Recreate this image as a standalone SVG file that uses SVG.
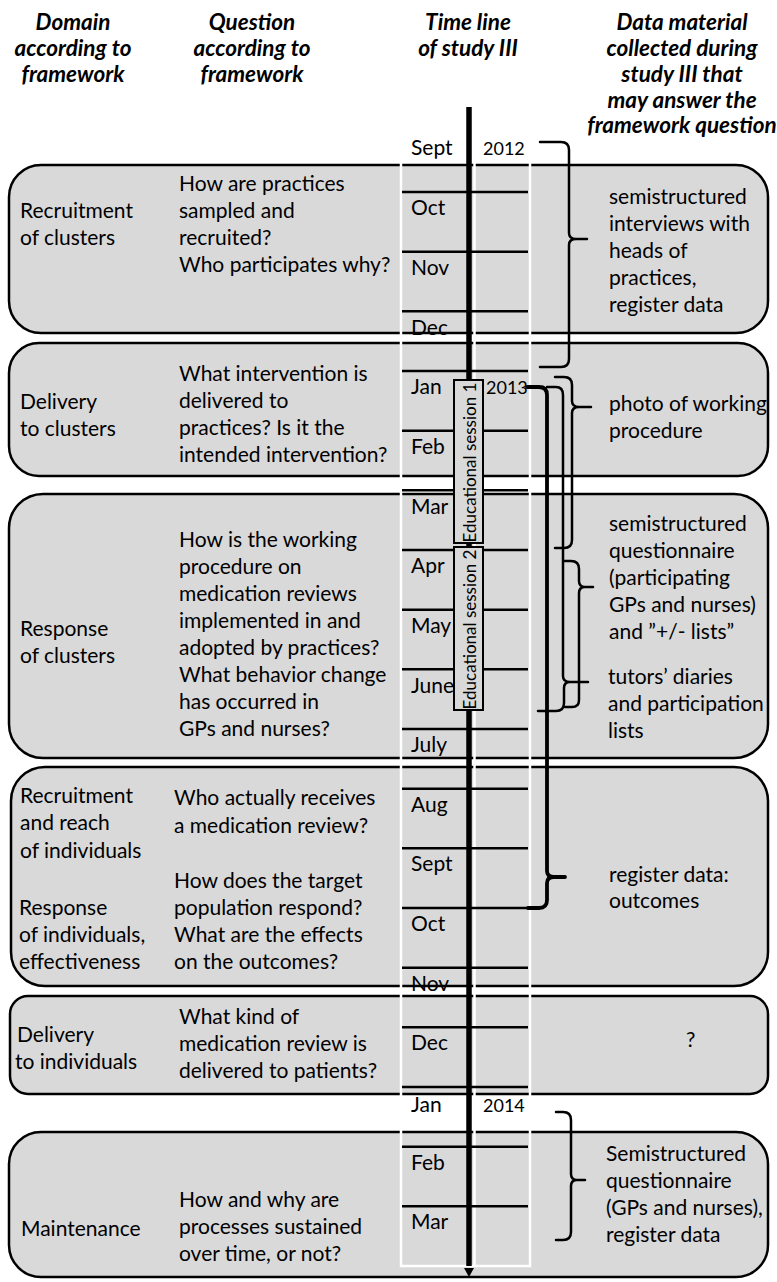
<svg xmlns="http://www.w3.org/2000/svg" width="777" height="1282" viewBox="0 0 777 1282">
<style>
  text { font-family: Lato, "Liberation Sans", sans-serif; fill: #000; }
  .hd { font-size: 22.5px; font-weight: bold; font-style: italic; text-anchor: middle; }
  .tx { font-size: 21px; }
  .mo { font-size: 21px; }
  .yr { font-size: 18px; }
  .edu { font-size: 17px; text-anchor: middle; }
  .box { fill: #d9d9d9; stroke: #000; stroke-width: 2.5; }
  .col { fill: none; stroke: #fff; stroke-width: 2.5; }
  .sep { stroke: #000; stroke-width: 2.5; }
  .brace { fill: none; stroke: #000; stroke-width: 2.5; stroke-linejoin: round; stroke-linecap: round; }
  .brace.thick { stroke-width: 3.8; }
  .eduBox { fill: #d9d9d9; stroke: #000; stroke-width: 2; }
</style>

<!-- column headings -->
<g id="headings">
  <text class="hd" x="73" y="30">Domain</text>
  <text class="hd" x="73" y="56">according to</text>
  <text class="hd" x="73" y="82">framework</text>
  <text class="hd" x="252" y="30">Question</text>
  <text class="hd" x="252" y="56">according to</text>
  <text class="hd" x="252" y="82">framework</text>
  <text class="hd" x="468" y="30">Time line</text>
  <text class="hd" x="468" y="56">of study III</text>
  <text class="hd" x="682" y="30">Data material</text>
  <text class="hd" x="682" y="56">collected during</text>
  <text class="hd" x="682" y="82">study III that</text>
  <text class="hd" x="682" y="108">may answer the</text>
  <text class="hd" x="682" y="133">framework question</text>
</g>

<!-- domain bands -->
<g id="band-recruitment-clusters"><rect class="box" x="9" y="165" width="759" height="168" rx="32"/></g>
<g id="band-delivery-clusters"><rect class="box" x="9" y="343" width="759" height="133" rx="30"/></g>
<g id="band-response-clusters"><rect class="box" x="9" y="494" width="759" height="264" rx="34"/></g>
<g id="band-individuals"><rect class="box" x="11" y="767" width="757" height="219" rx="34"/></g>
<g id="band-delivery-individuals"><rect class="box" x="10" y="996" width="758" height="98" rx="18"/></g>
<g id="band-maintenance"><rect class="box" x="9" y="1132" width="759" height="145" rx="32"/></g>

<!-- time line -->
<g id="timeline">
  <g class="months">
    <text class="mo" x="411" y="155">Sept</text>
    <text class="mo" x="411" y="215">Oct</text>
    <text class="mo" x="411" y="275">Nov</text>
    <text class="mo" x="411" y="335">Dec</text>
    <text class="mo" x="411" y="394">Jan</text>
    <text class="mo" x="411" y="454">Feb</text>
    <text class="mo" x="411" y="514">Mar</text>
    <text class="mo" x="411" y="573">Apr</text>
    <text class="mo" x="411" y="633">May</text>
    <text class="mo" x="411" y="693">June</text>
    <text class="mo" x="411" y="752">July</text>
    <text class="mo" x="411" y="812">Aug</text>
    <text class="mo" x="411" y="871">Sept</text>
    <text class="mo" x="411" y="931">Oct</text>
    <text class="mo" x="411" y="991">Nov</text>
    <text class="mo" x="411" y="1050">Dec</text>
    <text class="mo" x="411" y="1112">Jan</text>
    <text class="mo" x="411" y="1170">Feb</text>
    <text class="mo" x="411" y="1229">Mar</text>
  </g>
  <g class="years">
    <text class="yr" x="483" y="155">2012</text>
    <text class="yr" x="486" y="394">2013</text>
    <text class="yr" x="483" y="1112">2014</text>
  </g>
  <!-- white column frames -->
  <rect class="col" x="401" y="160" width="129" height="1106"/>
  <line class="col" x1="474.5" y1="160" x2="474.5" y2="1266" stroke-width="3"/>
  <!-- month dividers -->
  <g class="sep">
    <line x1="402" y1="192" x2="528" y2="192"/>
    <line x1="402" y1="251.7" x2="528" y2="251.7"/>
    <line x1="402" y1="311.3" x2="528" y2="311.3"/>
    <line x1="402" y1="371" x2="528" y2="371"/>
    <line x1="402" y1="430.7" x2="528" y2="430.7"/>
    <line x1="402" y1="490.3" x2="528" y2="490.3"/>
    <line x1="402" y1="550" x2="528" y2="550"/>
    <line x1="402" y1="609.7" x2="528" y2="609.7"/>
    <line x1="402" y1="669.3" x2="528" y2="669.3"/>
    <line x1="402" y1="729" x2="528" y2="729"/>
    <line x1="402" y1="788.7" x2="528" y2="788.7"/>
    <line x1="402" y1="848.3" x2="528" y2="848.3"/>
    <line x1="402" y1="908" x2="528" y2="908"/>
    <line x1="402" y1="967.7" x2="528" y2="967.7"/>
    <line x1="402" y1="1027.3" x2="528" y2="1027.3"/>
    <line x1="402" y1="1087" x2="528" y2="1087"/>
    <line x1="402" y1="1146.7" x2="528" y2="1146.7"/>
    <line x1="402" y1="1206.3" x2="528" y2="1206.3"/>
  </g>
  <!-- axis with arrow -->
  <line x1="469" y1="107" x2="469" y2="1266" stroke="#000" stroke-width="5.5"/>
  <polygon points="464,1268 474,1268 469,1277" fill="#000"/>
</g>

<!-- educational sessions -->
<g id="session-1">
  <rect class="eduBox" x="454" y="380" width="29" height="163"/>
  <text class="edu" transform="translate(475.5,462.5) rotate(-90)">Educational session 1</text>
</g>
<g id="session-2">
  <rect class="eduBox" x="454" y="547" width="29" height="163"/>
  <text class="edu" transform="translate(475.5,629.5) rotate(-90)">Educational session 2</text>
</g>

<!-- braces linking periods to data material -->
<g id="connectors">
  <path class="brace" d="M540,142 H561 Q569,142 569,150 V233 Q569,239 576,239 H587 M576,239 Q569,239 569,245 V359 Q569,367 561,367 H540"/>
  <path class="brace" d="M555,377 H564 Q572,377 572,385 V401 Q572,407 579,407 H591 M579,407 Q572,407 572,413 V540 Q572,548 564,548 H555"/>
  <path class="brace" d="M564,561 H571 Q579,561 579,569 V581 Q579,587 585,587 H593 M585,587 Q579,587 579,593 V700 Q579,707 572,707 H565"/>
  <path class="brace" d="M547,387 H556 Q563,387 563,395 V676 Q563,682 570,682 H588 M570,682 Q564,682 564,688 V703 Q564,711 556,711 H538"/>
  <path class="brace thick" d="M527,387 H539 Q547,387 547,395 V871 Q547,877 554,877 H565 M554,877 Q547,877 547,883 V900 Q547,908 539,908 H528"/>
  <path class="brace" d="M556,1112 H563 Q571,1112 571,1120 V1174 Q571,1180 577,1180 H585 M577,1180 Q571,1180 571,1186 V1232 Q571,1240 563,1240 H556"/>
</g>

<!-- band texts -->
<g id="text-recruitment-clusters">
  <text class="tx" x="20" y="218">Recruitment</text>
  <text class="tx" x="20" y="245">of clusters</text>
  <text class="tx" x="179" y="191">How are practices</text>
  <text class="tx" x="179" y="218">sampled and</text>
  <text class="tx" x="179" y="245">recruited?</text>
  <text class="tx" x="179" y="272">Who participates why?</text>
  <text class="tx" x="609" y="204">semistructured</text>
  <text class="tx" x="609" y="231">interviews with</text>
  <text class="tx" x="609" y="258">heads of</text>
  <text class="tx" x="609" y="285">practices,</text>
  <text class="tx" x="609" y="312">register data</text>
</g>
<g id="text-delivery-clusters">
  <text class="tx" x="20" y="409">Delivery</text>
  <text class="tx" x="20" y="436">to clusters</text>
  <text class="tx" x="179" y="381">What intervention is</text>
  <text class="tx" x="179" y="408">delivered to</text>
  <text class="tx" x="179" y="435">practices? Is it the</text>
  <text class="tx" x="179" y="462">intended intervention?</text>
  <text class="tx" x="609" y="411">photo of working</text>
  <text class="tx" x="609" y="438">procedure</text>
</g>
<g id="text-response-clusters">
  <text class="tx" x="20" y="636">Response</text>
  <text class="tx" x="20" y="663">of clusters</text>
  <text class="tx" x="179" y="547">How is the working</text>
  <text class="tx" x="179" y="574">procedure on</text>
  <text class="tx" x="179" y="601">medication reviews</text>
  <text class="tx" x="179" y="628">implemented in and</text>
  <text class="tx" x="179" y="655">adopted by practices?</text>
  <text class="tx" x="179" y="682">What behavior change</text>
  <text class="tx" x="179" y="709">has occurred in</text>
  <text class="tx" x="179" y="736">GPs and nurses?</text>
  <text class="tx" x="609" y="531">semistructured</text>
  <text class="tx" x="609" y="558">questionnaire</text>
  <text class="tx" x="609" y="585">(participating</text>
  <text class="tx" x="609" y="612">GPs and nurses)</text>
  <text class="tx" x="609" y="639">and ”+/- lists”</text>
  <text class="tx" x="608" y="684">tutors’ diaries</text>
  <text class="tx" x="608" y="711">and participation</text>
  <text class="tx" x="608" y="738">lists</text>
</g>
<g id="text-individuals">
  <text class="tx" x="20" y="803">Recruitment</text>
  <text class="tx" x="20" y="830">and reach</text>
  <text class="tx" x="20" y="858">of individuals</text>
  <text class="tx" x="19" y="915">Response</text>
  <text class="tx" x="19" y="942">of individuals,</text>
  <text class="tx" x="19" y="969">effectiveness</text>
  <text class="tx" x="174" y="805">Who actually receives</text>
  <text class="tx" x="174" y="833">a medication review?</text>
  <text class="tx" x="174" y="888">How does the target</text>
  <text class="tx" x="174" y="915">population respond?</text>
  <text class="tx" x="174" y="942">What are the effects</text>
  <text class="tx" x="174" y="969">on the outcomes?</text>
  <text class="tx" x="609" y="882">register data:</text>
  <text class="tx" x="609" y="908">outcomes</text>
</g>
<g id="text-delivery-individuals">
  <text class="tx" x="17" y="1042">Delivery</text>
  <text class="tx" x="15" y="1069">to individuals</text>
  <text class="tx" x="179" y="1024">What kind of</text>
  <text class="tx" x="179" y="1051">medication review is</text>
  <text class="tx" x="179" y="1078">delivered to patients?</text>
  <text class="tx" x="686" y="1047">?</text>
</g>
<g id="text-maintenance">
  <text class="tx" x="21" y="1236">Maintenance</text>
  <text class="tx" x="179" y="1207">How and why are</text>
  <text class="tx" x="179" y="1234">processes sustained</text>
  <text class="tx" x="179" y="1261">over time, or not?</text>
  <text class="tx" x="606" y="1161">Semistructured</text>
  <text class="tx" x="606" y="1188">questionnaire</text>
  <text class="tx" x="606" y="1215">(GPs and nurses),</text>
  <text class="tx" x="606" y="1242">register data</text>
</g>
</svg>
